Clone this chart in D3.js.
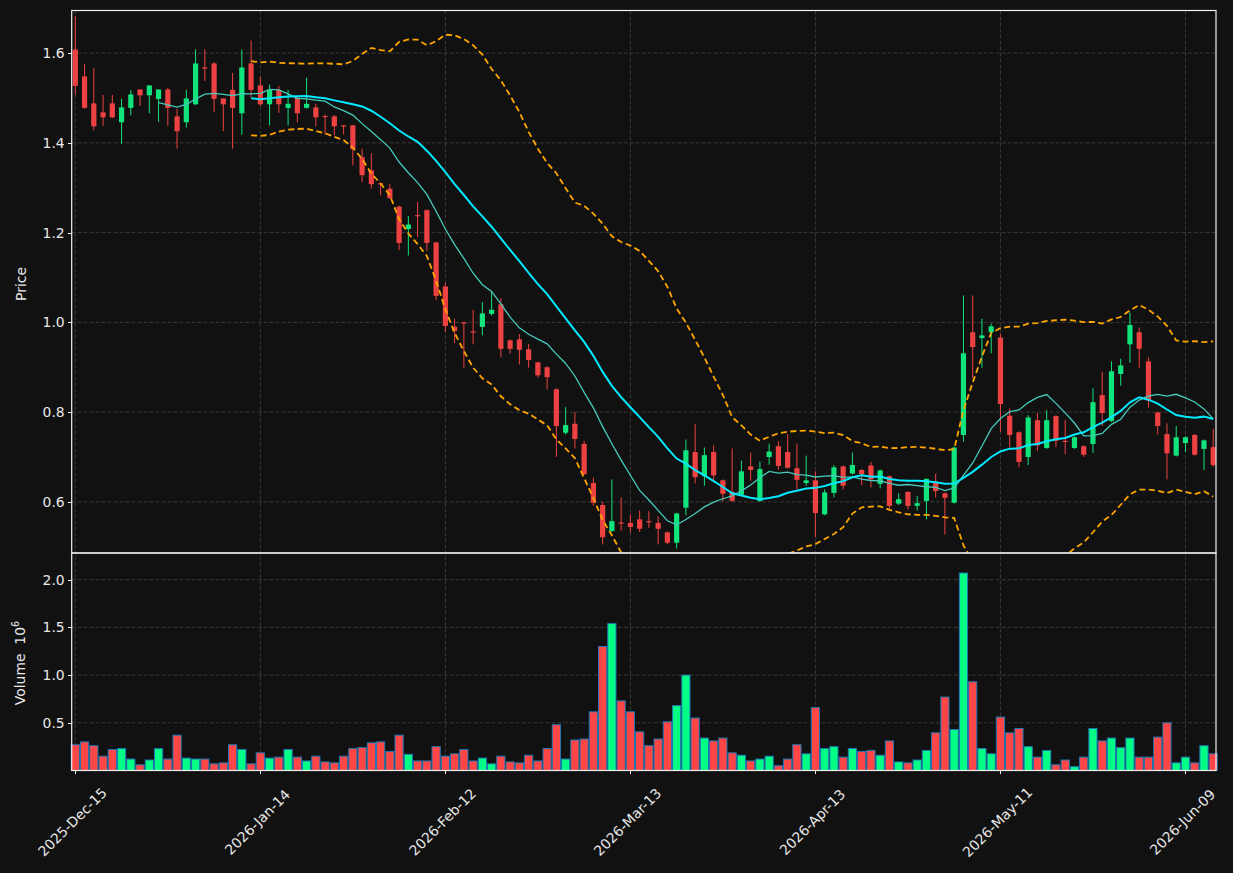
<!doctype html>
<html>
<head>
<meta charset="utf-8">
<title>Candlestick with volume</title>
<script src="https://d3js.org/d3.v7.min.js"></script>
<style>
    body {
        margin: 0;
        background: #111111;
    }
    text {
        font-family: "DejaVu Sans", sans-serif;
        font-size: 13.9px;
        fill: #e8e8e8;
    }
    .grid line {
        stroke: #3a3a3a;
        stroke-width: 1;
        stroke-dasharray: 4,2;
    }
    .axis path,
    .axis line {
        stroke: #f0f0f0;
        shape-rendering: crispEdges;
    }
</style>
</head>
<body>
<div id="forChart"></div>
<script>

// daily OHLC
const opens = [1.608,1.548,1.488,1.468,1.488,1.446,1.478,1.519,1.506,1.498,
    1.519,1.459,1.446,1.486,1.568,1.577,1.499,1.518,1.466,1.577,
    1.528,1.486,1.518,1.478,1.501,1.478,1.479,1.460,1.459,1.439,
    1.439,1.368,1.339,1.310,1.298,1.258,1.208,1.239,1.250,1.178,
    1.080,0.990,1.000,0.980,0.990,1.019,1.040,0.960,0.962,0.940,
    0.911,0.900,0.851,0.754,0.774,0.729,0.642,0.593,0.535,0.554,
    0.553,0.561,0.557,0.553,0.532,0.509,0.587,0.711,0.657,0.711,
    0.648,0.622,0.616,0.679,0.602,0.700,0.724,0.711,0.675,0.642,
    0.648,0.572,0.620,0.679,0.663,0.671,0.681,0.640,0.657,0.596,
    0.622,0.591,0.602,0.643,0.619,0.598,0.749,0.978,0.965,0.978,
    0.966,0.792,0.755,0.700,0.782,0.720,0.791,0.736,0.720,0.724,
    0.729,0.838,0.780,0.885,0.951,0.978,0.913,0.799,0.751,0.703,
    0.731,0.749,0.718,0.722];
const highs = [1.682,1.576,1.567,1.507,1.507,1.498,1.518,1.519,1.528,1.519,
    1.523,1.476,1.518,1.608,1.608,1.580,1.499,1.556,1.608,1.628,
    1.548,1.530,1.527,1.518,1.503,1.545,1.487,1.463,1.462,1.440,
    1.440,1.387,1.377,1.312,1.309,1.260,1.237,1.268,1.252,1.180,
    1.088,1.008,1.001,1.028,1.045,1.070,1.054,0.962,0.974,0.952,
    0.912,0.902,0.853,0.811,0.800,0.736,0.654,0.600,0.650,0.610,
    0.572,0.581,0.579,0.568,0.534,0.576,0.739,0.773,0.721,0.726,
    0.650,0.719,0.692,0.710,0.690,0.730,0.735,0.751,0.730,0.703,
    0.668,0.628,0.682,0.681,0.710,0.673,0.689,0.672,0.659,0.619,
    0.624,0.613,0.653,0.663,0.621,0.723,1.060,1.060,1.008,0.997,
    0.975,0.808,0.757,0.793,0.798,0.804,0.793,0.782,0.746,0.726,
    0.853,0.890,0.913,0.919,1.022,0.988,0.922,0.801,0.775,0.769,
    0.746,0.751,0.739,0.763];
const lows = [1.507,1.476,1.428,1.438,1.455,1.398,1.461,1.482,1.466,1.447,
    1.438,1.387,1.434,1.484,1.538,1.468,1.426,1.387,1.418,1.501,
    1.482,1.439,1.467,1.439,1.446,1.476,1.437,1.419,1.417,1.419,
    1.350,1.313,1.298,1.283,1.275,1.161,1.149,1.190,1.159,1.049,
    0.979,0.954,0.899,0.951,0.971,1.015,0.922,0.930,0.906,0.899,
    0.877,0.850,0.700,0.750,0.719,0.660,0.591,0.505,0.533,0.536,
    0.531,0.533,0.542,0.505,0.506,0.496,0.570,0.641,0.636,0.648,
    0.601,0.600,0.614,0.647,0.600,0.683,0.672,0.674,0.628,0.636,
    0.521,0.570,0.610,0.628,0.661,0.637,0.632,0.630,0.585,0.593,
    0.583,0.581,0.561,0.610,0.527,0.596,0.734,0.875,0.899,0.931,
    0.756,0.722,0.677,0.682,0.714,0.718,0.722,0.706,0.718,0.700,
    0.709,0.769,0.778,0.859,0.910,0.899,0.810,0.750,0.650,0.701,
    0.711,0.703,0.671,0.678];
const closes = [1.527,1.478,1.437,1.457,1.457,1.479,1.508,1.506,1.528,1.519,
    1.478,1.426,1.499,1.577,1.566,1.498,1.486,1.478,1.568,1.518,
    1.486,1.518,1.486,1.487,1.466,1.487,1.457,1.458,1.437,1.437,
    1.386,1.328,1.308,1.308,1.277,1.177,1.218,1.237,1.177,1.059,
    0.992,0.981,0.999,0.978,1.020,1.028,0.941,0.941,0.939,0.916,
    0.882,0.878,0.769,0.771,0.740,0.662,0.598,0.521,0.557,0.552,
    0.544,0.540,0.555,0.540,0.509,0.574,0.715,0.655,0.704,0.659,
    0.618,0.602,0.668,0.671,0.673,0.712,0.680,0.676,0.649,0.648,
    0.575,0.621,0.677,0.636,0.682,0.662,0.650,0.670,0.591,0.606,
    0.591,0.597,0.651,0.624,0.609,0.721,0.931,0.945,0.971,0.991,
    0.818,0.749,0.689,0.788,0.726,0.782,0.736,0.734,0.744,0.705,
    0.822,0.798,0.891,0.904,0.994,0.941,0.826,0.769,0.708,0.744,
    0.744,0.705,0.737,0.682];
// volume in millions of shares
const volumes = [0.27,0.30,0.26,0.15,0.22,0.23,0.12,0.06,0.11,0.23,
    0.12,0.37,0.13,0.12,0.12,0.07,0.08,0.27,0.22,0.07,
    0.185,0.13,0.14,0.22,0.14,0.10,0.15,0.09,0.08,0.15,
    0.23,0.24,0.29,0.30,0.20,0.37,0.17,0.10,0.10,0.25,
    0.15,0.175,0.22,0.10,0.13,0.07,0.15,0.09,0.08,0.16,
    0.10,0.23,0.48,0.12,0.32,0.33,0.615,1.30,1.54,0.73,
    0.615,0.405,0.26,0.33,0.51,0.68,1.00,0.55,0.34,0.31,
    0.34,0.185,0.16,0.10,0.12,0.15,0.05,0.12,0.27,0.175,
    0.66,0.23,0.25,0.14,0.23,0.20,0.21,0.16,0.31,0.09,
    0.08,0.11,0.21,0.395,0.77,0.43,2.07,0.93,0.23,0.175,
    0.56,0.395,0.44,0.25,0.14,0.21,0.06,0.11,0.04,0.14,
    0.44,0.31,0.34,0.24,0.34,0.14,0.14,0.35,0.50,0.08,
    0.14,0.08,0.26,0.175];

// trading calendar (weekends + these closed days are skipped)
const firstDay = "2025-12-15";
const holidays = ["2025-12-25", "2026-01-01", "2026-01-19", "2026-02-16", "2026-04-03", "2026-05-25"];

const priceTicks = [0.6, 0.8, 1.0, 1.2, 1.4, 1.6];
const volumeTicks = [0.5, 1.0, 1.5, 2.0];
const tickEvery = 20;

const w = 1233;
const h = 873;
const left = 71.7, right = 1216;
const priceTop = 10.5, priceBottom = 553, volBottom = 770.5;

const parseDay = d3.utcParse("%Y-%m-%d");
const fmtDay = d3.utcFormat("%Y-%m-%d");
const fmtTick = d3.utcFormat("%Y-%b-%d");

const dates = [];
let day = parseDay(firstDay);
while (dates.length < closes.length) {
    const wd = day.getUTCDay();
    if (wd !== 0 && wd !== 6 && holidays.indexOf(fmtDay(day)) < 0) {
        dates.push(day);
    }
    day = d3.utcDay.offset(day, 1);
}

const data = closes.map(function (c, i) {
    return {i: i, date: dates[i], open: opens[i], high: highs[i], low: lows[i], close: c, volume: volumes[i]};
});

// moving averages and bollinger bands from closes
function rolling(n, fn) {
    return closes.map(function (c, i) {
        if (i < n - 1) return null;
        return fn(closes.slice(i - n + 1, i + 1));
    });
}
const ma10 = rolling(10, d3.mean);
const ma20 = rolling(20, d3.mean);
const sd20 = rolling(20, d3.deviation);
const upper = ma20.map(function (m, i) { return m == null ? null : m + 2 * sd20[i]; });
const lower = ma20.map(function (m, i) { return m == null ? null : m - 2 * sd20[i]; });

const xScale = d3.scaleLinear()
    .domain([-0.39, data.length - 0.7])
    .range([left, right]);

const yPrice = d3.scaleLinear()
    .domain([0.486, 1.695])
    .range([priceBottom, priceTop]);

const yVol = d3.scaleLinear()
    .domain([0, (volBottom - priceBottom) / 95.4])
    .range([volBottom, priceBottom]);

const svg = d3.select("#forChart")
    .append("svg")
    .attr("width", w)
    .attr("height", h);

svg.append("rect")
    .attr("width", w)
    .attr("height", h)
    .attr("fill", "#111111");

svg.append("clipPath")
    .attr("id", "priceClip")
    .append("rect")
    .attr("x", left)
    .attr("y", priceTop)
    .attr("width", right - left)
    .attr("height", priceBottom - priceTop);

const xTickIdx = d3.range(0, data.length, tickEvery);

// grid
const grid = svg.append("g").attr("class", "grid");
grid.selectAll(".vgrid")
    .data(xTickIdx)
    .enter()
    .append("line")
    .attr("x1", function (d) { return xScale(d); })
    .attr("x2", function (d) { return xScale(d); })
    .attr("y1", priceTop)
    .attr("y2", volBottom);
grid.selectAll(".pgrid")
    .data(priceTicks)
    .enter()
    .append("line")
    .attr("x1", left)
    .attr("x2", right)
    .attr("y1", function (d) { return yPrice(d); })
    .attr("y2", function (d) { return yPrice(d); });
grid.selectAll(".vgrid2")
    .data(volumeTicks)
    .enter()
    .append("line")
    .attr("x1", left)
    .attr("x2", right)
    .attr("y1", function (d) { return yVol(d); })
    .attr("y2", function (d) { return yVol(d); });

const upColor = "#10e47c", downColor = "#ee4242";
const volUp = "#00ff84", volDown = "#ff4646";

const price = svg.append("g").attr("clip-path", "url(#priceClip)");

// wicks
price.selectAll(".wick")
    .data(data)
    .enter()
    .append("line")
    .attr("x1", function (d) { return xScale(d.i); })
    .attr("x2", function (d) { return xScale(d.i); })
    .attr("y1", function (d) { return yPrice(d.high); })
    .attr("y2", function (d) { return yPrice(d.low); })
    .attr("stroke", function (d) { return d.close >= d.open ? upColor : downColor; })
    .attr("stroke-width", 1);

// bodies
price.selectAll(".body")
    .data(data)
    .enter()
    .append("rect")
    .attr("x", function (d) { return xScale(d.i) - 2.6; })
    .attr("width", 5.2)
    .attr("y", function (d) { return yPrice(Math.max(d.open, d.close)); })
    .attr("height", function (d) {
        return Math.max(1.2, Math.abs(yPrice(d.open) - yPrice(d.close)));
    })
    .attr("fill", function (d) { return d.close >= d.open ? upColor : downColor; });

function drawLine(values, color, width, dash, opacity) {
    const line = d3.line()
        .defined(function (d) { return d != null; })
        .x(function (d, i) { return xScale(i); })
        .y(function (d) { return yPrice(d); });
    price.append("path")
        .datum(values)
        .attr("d", line)
        .attr("fill", "none")
        .attr("stroke", color)
        .attr("stroke-width", width)
        .attr("stroke-dasharray", dash)
        .attr("opacity", opacity);
}

drawLine(ma10, "#45cbbb", 1.3, null, 1);
drawLine(ma20, "#00eaff", 2, null, 1);
drawLine(upper, "#ffa500", 1.8, "6,3.5", 1);
drawLine(lower, "#ffa500", 1.8, "6,3.5", 1);

// volume bars
svg.append("g")
    .selectAll("rect")
    .data(data)
    .enter()
    .append("rect")
    .attr("x", function (d) { return xScale(d.i) - 4.1; })
    .attr("width", 8.2)
    .attr("y", function (d) { return yVol(d.volume); })
    .attr("height", function (d) { return volBottom - yVol(d.volume); })
    .attr("fill", function (d) { return d.close >= d.open ? volUp : volDown; })
    .attr("stroke", "#1f77b4")
    .attr("stroke-width", 1);

// axes
svg.append("g")
    .attr("class", "axis")
    .attr("transform", "translate(" + left + ",0)")
    .call(d3.axisLeft(yPrice).tickValues(priceTicks).tickFormat(d3.format(".1f")).tickSize(3.5).tickPadding(3.5))
    .call(function (g) { g.select(".domain").remove(); });

svg.append("g")
    .attr("class", "axis")
    .attr("transform", "translate(" + left + ",0)")
    .call(d3.axisLeft(yVol).tickValues(volumeTicks).tickFormat(d3.format(".1f")).tickSize(3.5).tickPadding(3.5))
    .call(function (g) { g.select(".domain").remove(); });

const xAxis = svg.append("g")
    .attr("class", "axis")
    .attr("transform", "translate(0," + volBottom + ")")
    .call(d3.axisBottom(xScale).tickValues(xTickIdx).tickFormat("").tickSize(3.5))
    .call(function (g) { g.select(".domain").remove(); });

svg.selectAll(".axis text").attr("fill", "#e8e8e8").style("font-size", "13.9px");

svg.append("g")
    .selectAll("text")
    .data(xTickIdx)
    .enter()
    .append("text")
    .attr("text-anchor", "middle")
    .attr("dominant-baseline", "central")
    .attr("transform", function (d) {
        return "translate(" + (xScale(d) - 3) + ",822) rotate(-45)";
    })
    .text(function (d) { return fmtTick(dates[d]); });

// panel frames
svg.append("rect")
    .attr("x", left)
    .attr("y", priceTop)
    .attr("width", right - left)
    .attr("height", priceBottom - priceTop)
    .attr("fill", "none")
    .attr("stroke", "#f0f0f0")
    .attr("stroke-width", 1.2);
svg.append("rect")
    .attr("x", left)
    .attr("y", priceBottom)
    .attr("width", right - left)
    .attr("height", volBottom - priceBottom)
    .attr("fill", "none")
    .attr("stroke", "#f0f0f0")
    .attr("stroke-width", 1.2);

// axis titles
svg.append("text")
    .attr("text-anchor", "middle")
    .attr("transform", "translate(26,284) rotate(-90)")
    .text("Price");

const volTitle = svg.append("text")
    .attr("text-anchor", "middle")
    .attr("transform", "translate(25,663) rotate(-90)")
    .style("white-space", "pre")
    .text("Volume  10");
volTitle.append("tspan")
    .attr("dy", -6)
    .style("font-size", "9.7px")
    .text("6");

</script>
</body>
</html>
